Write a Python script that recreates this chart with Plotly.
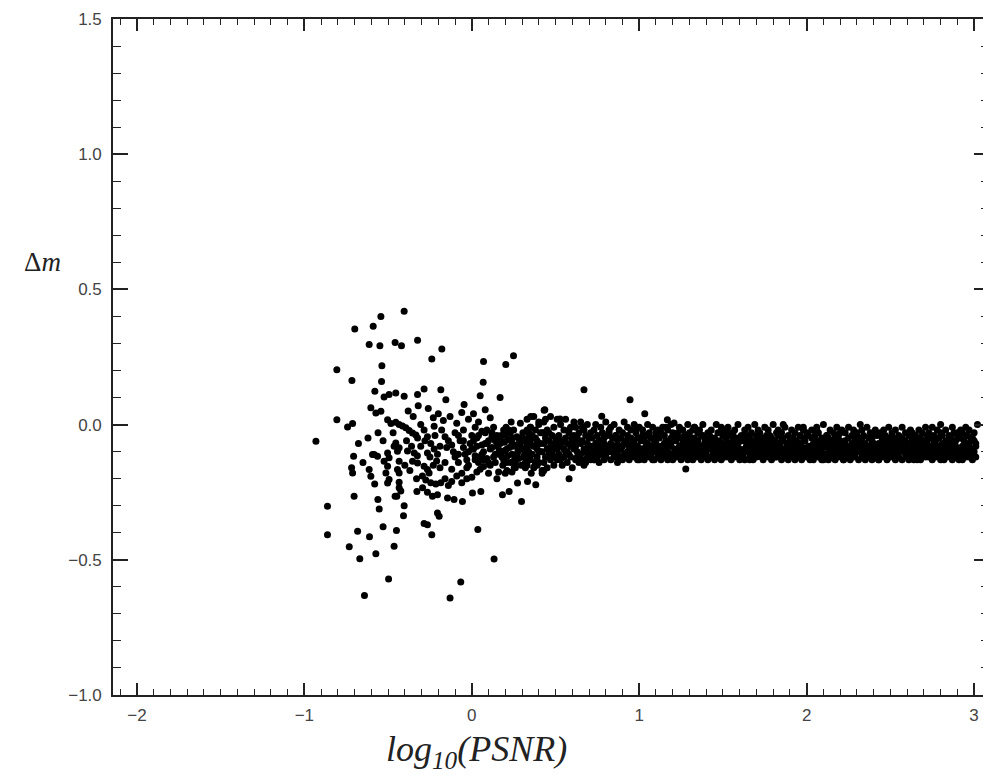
import plotly.graph_objects as go

# ---------------- data ----------------
out_x = [-0.404,-0.543,-0.699,-0.589,-0.613,-0.549,-0.458,-0.420,-0.324,-0.179,
 -0.239,0.070,0.203,0.249,-0.806,-0.537,-0.716,-0.539,0.068,0.169,
 -0.579,-0.524,-0.494,-0.454,-0.404,-0.324,-0.285,-0.185,-0.155,-0.046,
 0.050,-0.603,-0.573,-0.543,-0.806,-0.742,-0.712,-0.931,-0.677,-0.706,
 -0.718,-0.712,-0.862,-0.862,-0.703,-0.682,-0.732,-0.669,-0.611,-0.573,
 -0.530,-0.464,-0.450,-0.497,-0.641,-0.561,-0.553,-0.448,-0.404,-0.408,
 -0.285,-0.265,-0.239,-0.205,-0.195,-0.130,-0.066,0.036,0.133,0.297,
 -0.434,-0.458,-0.328,-0.294,-0.265,-0.235,-0.205,-0.145,-0.106,-0.056,
 0.004,0.054,0.183,0.223,0.273,0.333,0.382,0.670,0.945,0.432,
 0.527,0.776,1.033,1.168,1.208,1.278,0.581,0.253,0.372,0.436]
out_y = [0.419,0.400,0.354,0.364,0.296,0.292,0.304,0.292,0.312,0.280,
 0.243,0.233,0.222,0.255,0.203,0.218,0.163,0.159,0.157,0.100,
 0.123,0.102,0.111,0.117,0.105,0.111,0.132,0.129,0.092,0.074,
 0.107,0.062,0.043,0.049,0.018,-0.009,0.004,-0.062,-0.070,-0.117,
 -0.160,-0.179,-0.302,-0.407,-0.265,-0.394,-0.452,-0.496,-0.415,-0.478,
 -0.378,-0.450,-0.392,-0.571,-0.632,-0.277,-0.312,-0.265,-0.300,-0.337,
 -0.366,-0.370,-0.407,-0.327,-0.339,-0.641,-0.582,-0.388,-0.497,-0.284,
 -0.234,-0.265,-0.247,-0.234,-0.250,-0.265,-0.259,-0.271,-0.277,-0.284,
 -0.253,-0.247,-0.259,-0.247,-0.216,-0.210,-0.222,0.129,0.092,0.053,
 0.021,0.031,0.040,0.018,0.006,-0.164,-0.200,-0.160,-0.156,0.055]

mid_x = [-0.503,-0.483,-0.454,-0.434,-0.414,-0.394,-0.374,-0.354,-0.334,-0.324,
 -0.305,-0.225,-0.454,-0.464,-0.434,-0.444,-0.503,-0.494,-0.593,-0.563,
 -0.524,-0.503,-0.513,-0.494,-0.503,-0.434,-0.444,-0.434,-0.384,-0.344,
 -0.354,-0.324,-0.285,-0.265,-0.255,-0.613,-0.603,-0.583,-0.424,-0.434,
 -0.285,-0.265,-0.245,-0.225,-0.205,-0.265,-0.305,-0.325,-0.295,-0.275,
 -0.245,-0.215,-0.185,-0.160,-0.140,-0.120,-0.090,-0.060,-0.030,0.000,
 -0.180,-0.160,-0.140,-0.150,-0.120,-0.110,-0.100,-0.080,-0.070,-0.050,
 -0.040,-0.030,-0.020,-0.010,0.010,0.020,0.030,0.040,0.050,0.060,
 0.070,0.080,0.090,0.100,0.110,0.120,0.130,0.140,0.150,0.160,
 -0.200,-0.170,-0.130,-0.090,-0.060,-0.020,0.010,0.040,0.080,0.110,
 -0.120,-0.160,-0.190,-0.210,-0.230,-0.080,-0.050,-0.100,0.000,0.020,
 0.170,0.180,0.190,0.200,0.210,0.220,0.230,0.240,0.250,0.260,
 0.270,0.280,0.290,0.300,0.310,0.320,0.330,0.340,0.350,0.355,
 0.165,0.175,0.185,0.195,0.205,0.215,0.225,0.235,0.245,0.255,
 0.265,0.275,0.285,0.295,0.305,0.315,0.325,0.335,0.345,0.352,
 -0.380,-0.350,-0.320,-0.260,-0.230,-0.400,-0.370,-0.330,-0.560,-0.530,
 -0.620,-0.650,-0.580,-0.470,-0.390,-0.360,-0.280,-0.250,-0.220,-0.190,
 0.060,0.090,0.120,0.140,0.100,0.070,0.030,0.150,0.200,0.240]
mid_y = [0.018,0.004,0.009,0.000,-0.005,-0.012,-0.022,-0.031,-0.038,-0.050,
 0.000,-0.006,-0.068,-0.080,-0.086,-0.099,-0.105,-0.123,-0.111,-0.117,
 -0.136,-0.154,-0.179,-0.203,-0.216,-0.136,-0.166,-0.179,-0.098,-0.105,
 -0.136,-0.142,-0.154,-0.166,-0.179,-0.166,-0.191,-0.111,-0.246,-0.213,
 -0.020,-0.045,-0.070,-0.090,-0.110,-0.105,-0.080,-0.115,-0.190,-0.205,
 -0.215,-0.220,-0.215,-0.200,-0.225,-0.210,-0.190,-0.215,-0.200,-0.195,
 -0.020,-0.045,-0.060,-0.085,-0.075,-0.100,-0.120,-0.140,-0.060,-0.085,
 -0.110,-0.130,-0.150,-0.070,-0.090,-0.115,-0.050,-0.140,-0.165,-0.075,
 -0.100,-0.030,-0.125,-0.060,-0.150,-0.085,-0.010,-0.110,-0.040,-0.175,
 0.040,0.015,0.030,0.005,0.045,0.020,0.040,0.010,0.055,0.025,
 -0.165,-0.140,-0.160,-0.135,-0.150,-0.040,-0.020,-0.030,-0.040,-0.010,
 -0.070,-0.120,-0.020,-0.095,-0.140,-0.055,-0.030,-0.110,-0.080,-0.160,
 -0.045,-0.125,0.005,-0.090,-0.060,-0.140,-0.020,-0.105,-0.075,-0.180,
 -0.095,-0.040,-0.150,-0.065,-0.010,-0.115,-0.085,0.010,-0.050,-0.130,
 -0.075,-0.100,-0.060,-0.150,-0.030,-0.110,-0.085,-0.050,-0.130,0.030,
 0.050,0.030,0.070,0.060,0.025,-0.150,-0.170,-0.200,-0.030,-0.060,
 -0.050,-0.140,-0.220,-0.030,-0.060,-0.080,-0.060,-0.120,-0.040,-0.080,
 -0.025,-0.070,-0.045,-0.140,-0.180,-0.155,-0.175,-0.200,-0.180,-0.175]

core_x = [-0.08,-0.05,-0.03,0.00,0.02,0.04,0.06,0.08,0.10,0.12,
 0.13,0.15,0.17,0.19,0.21,0.22,0.24,0.26,0.28,0.30,
 -0.06,-0.02,0.01,0.05,0.09,0.11,0.14,0.18,0.20,0.23,
 0.25,0.27,0.29,0.31,0.33,0.36,0.38,0.40,0.43,0.45,
 0.03,0.07,0.16,0.21,0.26,0.32,0.35,0.39,0.42,0.44]
core_y = [-0.11,-0.06,-0.16,-0.09,-0.13,-0.04,-0.11,-0.07,-0.14,-0.03,
 -0.12,-0.08,-0.05,-0.13,-0.09,-0.02,-0.07,-0.12,-0.09,-0.05,
 -0.18,-0.10,-0.06,-0.12,-0.02,-0.09,-0.06,-0.10,-0.04,-0.14,
 -0.02,-0.11,-0.07,-0.12,-0.08,-0.05,-0.14,-0.10,-0.03,-0.12,
 -0.08,-0.13,-0.11,-0.17,-0.14,-0.16,-0.01,-0.15,-0.17,0.02]

band_x = [
 0.32,0.32,0.33,0.33,0.33,0.34,0.34,0.35,0.35,0.35,0.36,0.36,0.37,0.37,0.37,0.38,0.38,0.39,0.39,0.39,0.40,0.40,0.41,0.41,0.41,0.42,0.33,0.36,0.38,0.40,
 0.42,0.42,0.43,0.43,0.43,0.44,0.44,0.45,0.45,0.45,0.46,0.46,0.47,0.47,0.47,0.48,0.48,0.49,0.49,0.49,0.50,0.50,0.51,0.51,0.51,0.52,0.43,0.46,0.48,0.50,
 0.52,0.52,0.53,0.53,0.53,0.54,0.54,0.55,0.55,0.55,0.56,0.56,0.57,0.57,0.57,0.58,0.58,0.59,0.59,0.59,0.60,0.60,0.61,0.61,0.61,0.62,0.53,0.56,0.58,0.60,
 0.62,0.62,0.63,0.63,0.63,0.64,0.64,0.65,0.65,0.65,0.66,0.66,0.67,0.67,0.67,0.68,0.68,0.69,0.69,0.69,0.70,0.70,0.71,0.71,0.71,0.72,0.63,0.66,0.68,0.70,
 0.72,0.72,0.73,0.73,0.73,0.74,0.74,0.75,0.75,0.75,0.76,0.76,0.77,0.77,0.77,0.78,0.78,0.79,0.79,0.79,0.80,0.80,0.81,0.81,0.81,0.82,0.73,0.76,0.78,0.80,
 0.82,0.82,0.83,0.83,0.83,0.84,0.84,0.85,0.85,0.85,0.86,0.86,0.87,0.87,0.87,0.88,0.88,0.89,0.89,0.89,0.90,0.90,0.91,0.91,0.91,0.92,0.83,0.86,0.88,0.90,
 0.92,0.92,0.93,0.93,0.93,0.94,0.94,0.95,0.95,0.95,0.96,0.96,0.97,0.97,0.97,0.98,0.98,0.99,0.99,0.99,1.00,1.00,1.01,1.01,1.01,1.02,0.93,0.96,0.98,1.00,
 1.02,1.02,1.03,1.03,1.03,1.04,1.04,1.05,1.05,1.05,1.06,1.06,1.07,1.07,1.07,1.08,1.08,1.09,1.09,1.09,1.10,1.10,1.11,1.11,1.11,1.12,1.03,1.06,1.08,1.10,
 1.12,1.12,1.13,1.13,1.13,1.14,1.14,1.15,1.15,1.15,1.16,1.16,1.17,1.17,1.17,1.18,1.18,1.19,1.19,1.19,1.20,1.20,1.21,1.21,1.21,1.22,1.13,1.16,1.18,1.20,
 1.22,1.22,1.23,1.23,1.23,1.24,1.24,1.25,1.25,1.25,1.26,1.26,1.27,1.27,1.27,1.28,1.28,1.29,1.29,1.29,1.30,1.30,1.31,1.31,1.31,1.32,1.23,1.26,1.28,1.30,
 1.32,1.32,1.33,1.33,1.33,1.34,1.34,1.35,1.35,1.35,1.36,1.36,1.37,1.37,1.37,1.38,1.38,1.39,1.39,1.39,1.40,1.40,1.41,1.41,1.41,1.42,1.33,1.36,1.38,1.40,
 1.42,1.42,1.43,1.43,1.43,1.44,1.44,1.45,1.45,1.45,1.46,1.46,1.47,1.47,1.47,1.48,1.48,1.49,1.49,1.49,1.50,1.50,1.51,1.51,1.51,1.52,1.43,1.46,1.48,1.50,
 1.52,1.52,1.53,1.53,1.53,1.54,1.54,1.55,1.55,1.55,1.56,1.56,1.57,1.57,1.57,1.58,1.58,1.59,1.59,1.59,1.60,1.60,1.61,1.61,1.61,1.62,1.53,1.56,1.58,1.60,
 1.62,1.62,1.63,1.63,1.63,1.64,1.64,1.65,1.65,1.65,1.66,1.66,1.67,1.67,1.67,1.68,1.68,1.69,1.69,1.69,1.70,1.70,1.71,1.71,1.71,1.72,1.63,1.66,1.68,1.70,
 1.72,1.72,1.73,1.73,1.73,1.74,1.74,1.75,1.75,1.75,1.76,1.76,1.77,1.77,1.77,1.78,1.78,1.79,1.79,1.79,1.80,1.80,1.81,1.81,1.81,1.82,1.73,1.76,1.78,1.80,
 1.82,1.82,1.83,1.83,1.83,1.84,1.84,1.85,1.85,1.85,1.86,1.86,1.87,1.87,1.87,1.88,1.88,1.89,1.89,1.89,1.90,1.90,1.91,1.91,1.91,1.92,1.83,1.86,1.88,1.90,
 1.92,1.92,1.93,1.93,1.93,1.94,1.94,1.95,1.95,1.95,1.96,1.96,1.97,1.97,1.97,1.98,1.98,1.99,1.99,1.99,2.00,2.00,2.01,2.01,2.01,2.02,1.93,1.96,1.98,2.00,
 2.02,2.02,2.03,2.03,2.03,2.04,2.04,2.05,2.05,2.05,2.06,2.06,2.07,2.07,2.07,2.08,2.08,2.09,2.09,2.09,2.10,2.10,2.11,2.11,2.11,2.12,2.03,2.06,2.08,2.10,
 2.12,2.12,2.13,2.13,2.13,2.14,2.14,2.15,2.15,2.15,2.16,2.16,2.17,2.17,2.17,2.18,2.18,2.19,2.19,2.19,2.20,2.20,2.21,2.21,2.21,2.22,2.13,2.16,2.18,2.20,
 2.22,2.22,2.23,2.23,2.23,2.24,2.24,2.25,2.25,2.25,2.26,2.26,2.27,2.27,2.27,2.28,2.28,2.29,2.29,2.29,2.30,2.30,2.31,2.31,2.31,2.32,2.23,2.26,2.28,2.30,
 2.32,2.32,2.33,2.33,2.33,2.34,2.34,2.35,2.35,2.35,2.36,2.36,2.37,2.37,2.37,2.38,2.38,2.39,2.39,2.39,2.40,2.40,2.41,2.41,2.41,2.42,2.33,2.36,2.38,2.40,
 2.42,2.42,2.43,2.43,2.43,2.44,2.44,2.45,2.45,2.45,2.46,2.46,2.47,2.47,2.47,2.48,2.48,2.49,2.49,2.49,2.50,2.50,2.51,2.51,2.51,2.52,2.43,2.46,2.48,2.50,
 2.52,2.52,2.53,2.53,2.53,2.54,2.54,2.55,2.55,2.55,2.56,2.56,2.57,2.57,2.57,2.58,2.58,2.59,2.59,2.59,2.60,2.60,2.61,2.61,2.61,2.62,2.53,2.56,2.58,2.60,
 2.62,2.62,2.63,2.63,2.63,2.64,2.64,2.65,2.65,2.65,2.66,2.66,2.67,2.67,2.67,2.68,2.68,2.69,2.69,2.69,2.70,2.70,2.71,2.71,2.71,2.72,2.63,2.66,2.68,2.70,
 2.72,2.72,2.73,2.73,2.73,2.74,2.74,2.75,2.75,2.75,2.76,2.76,2.77,2.77,2.77,2.78,2.78,2.79,2.79,2.79,2.80,2.80,2.81,2.81,2.81,2.82,2.73,2.76,2.78,2.80,
 2.82,2.82,2.83,2.83,2.83,2.84,2.84,2.85,2.85,2.85,2.86,2.86,2.87,2.87,2.87,2.88,2.88,2.89,2.89,2.89,2.90,2.90,2.91,2.91,2.91,2.92,2.83,2.86,2.88,2.90,
 2.92,2.92,2.93,2.93,2.93,2.94,2.94,2.95,2.95,2.95,2.96,2.96,2.97,2.97,2.97,2.98,2.98,2.99,2.99,2.99,3.00,3.00,3.01,3.01,3.01,3.02,2.93,2.96,2.98,3.00]
band_y = [
 -0.06,-0.12,0.02,-0.09,-0.15,-0.03,-0.10,-0.01,-0.07,-0.13,-0.04,-0.11,0.03,-0.08,-0.16,-0.05,-0.02,-0.12,-0.09,-0.06,-0.14,0.00,-0.10,-0.03,-0.07,-0.18,-0.11,-0.05,-0.08,0.01,
 -0.10,-0.03,-0.14,-0.07,0.01,-0.12,-0.05,-0.09,-0.16,-0.02,-0.11,-0.06,0.03,-0.13,-0.08,-0.04,-0.10,-0.15,-0.01,-0.07,-0.12,-0.05,-0.09,0.02,-0.13,-0.06,-0.17,-0.03,-0.11,-0.08,
 -0.04,-0.11,-0.08,0.00,-0.13,-0.06,-0.15,-0.02,-0.09,-0.12,-0.05,0.02,-0.10,-0.07,-0.14,-0.03,-0.11,-0.08,-0.01,-0.12,-0.06,-0.16,-0.09,-0.04,0.01,-0.13,-0.07,-0.10,-0.02,-0.05,
 -0.08,-0.01,-0.12,-0.05,-0.10,-0.14,-0.03,-0.07,0.01,-0.11,-0.06,-0.13,-0.09,-0.02,-0.15,-0.04,-0.10,-0.07,-0.12,0.00,-0.05,-0.09,-0.13,-0.03,-0.08,-0.11,-0.06,-0.01,-0.14,-0.10,
 -0.11,-0.05,-0.02,-0.09,-0.13,-0.07,0.00,-0.12,-0.04,-0.10,-0.08,-0.14,-0.01,-0.06,-0.11,-0.03,-0.09,-0.13,-0.05,-0.07,0.01,-0.12,-0.10,-0.04,-0.08,-0.02,-0.13,-0.06,-0.09,-0.11,
 -0.03,-0.10,-0.07,-0.13,-0.01,-0.09,-0.05,-0.12,-0.08,0.00,-0.11,-0.04,-0.14,-0.06,-0.10,-0.02,-0.08,-0.12,-0.05,-0.09,-0.13,-0.03,-0.07,-0.11,0.01,-0.06,-0.10,-0.04,-0.12,-0.08,
 -0.07,-0.12,-0.04,-0.10,-0.01,-0.08,-0.13,-0.05,-0.11,-0.02,-0.09,-0.06,-0.12,0.00,-0.07,-0.10,-0.03,-0.13,-0.08,-0.05,-0.11,-0.01,-0.09,-0.06,-0.12,-0.04,-0.10,-0.07,-0.02,-0.13,
 -0.09,-0.02,-0.11,-0.06,-0.13,-0.04,-0.08,0.00,-0.10,-0.07,-0.12,-0.03,-0.09,-0.05,-0.11,-0.01,-0.08,-0.13,-0.06,-0.10,-0.04,-0.07,-0.12,-0.02,-0.09,-0.11,-0.05,-0.08,-0.13,-0.03,
 -0.05,-0.10,-0.13,-0.03,-0.08,-0.11,-0.01,-0.07,-0.12,-0.04,-0.09,-0.06,-0.13,-0.02,-0.10,-0.07,-0.12,-0.05,0.00,-0.08,-0.11,-0.03,-0.09,-0.06,-0.12,-0.04,-0.10,-0.01,-0.07,-0.13,
 -0.12,-0.06,-0.03,-0.09,-0.11,-0.01,-0.08,-0.13,-0.05,-0.10,-0.02,-0.07,-0.12,-0.04,-0.09,-0.06,-0.11,0.00,-0.08,-0.13,-0.03,-0.10,-0.05,-0.07,-0.12,-0.02,-0.09,-0.11,-0.04,-0.06,
 -0.08,-0.13,-0.05,-0.01,-0.10,-0.07,-0.12,-0.03,-0.09,-0.06,-0.11,-0.02,-0.08,-0.13,-0.04,-0.10,0.00,-0.07,-0.12,-0.05,-0.09,-0.11,-0.03,-0.06,-0.13,-0.08,-0.01,-0.10,-0.04,-0.12,
 -0.04,-0.09,-0.12,-0.06,-0.02,-0.11,-0.08,-0.13,-0.05,-0.10,0.00,-0.07,-0.03,-0.12,-0.09,-0.06,-0.11,-0.01,-0.08,-0.13,-0.04,-0.10,-0.07,-0.02,-0.12,-0.05,-0.09,-0.11,-0.03,-0.08,
 -0.10,-0.05,-0.08,-0.12,-0.01,-0.07,-0.11,-0.04,-0.13,-0.09,-0.03,-0.06,-0.10,-0.12,-0.02,-0.08,-0.05,-0.11,-0.07,0.00,-0.13,-0.09,-0.04,-0.06,-0.10,-0.12,-0.03,-0.08,-0.11,-0.05,
 -0.06,-0.11,-0.02,-0.09,-0.13,-0.04,-0.08,-0.10,-0.01,-0.07,-0.12,-0.05,-0.09,-0.03,-0.11,-0.13,-0.06,-0.08,0.00,-0.10,-0.04,-0.12,-0.07,-0.09,-0.02,-0.11,-0.05,-0.13,-0.08,-0.06,
 -0.09,-0.03,-0.12,-0.07,-0.05,-0.10,-0.13,-0.01,-0.08,-0.11,-0.04,-0.06,-0.12,-0.09,-0.02,-0.10,-0.07,-0.13,-0.05,-0.08,-0.11,0.00,-0.06,-0.09,-0.12,-0.03,-0.10,-0.07,-0.04,-0.11,
 -0.12,-0.07,-0.04,-0.10,-0.02,-0.08,-0.11,-0.06,-0.13,-0.03,-0.09,-0.05,-0.10,-0.12,-0.01,-0.07,-0.09,-0.04,-0.11,-0.13,-0.06,-0.08,-0.02,-0.10,-0.05,-0.12,-0.07,0.00,-0.09,-0.11,
 -0.05,-0.10,-0.08,-0.13,-0.03,-0.06,-0.11,-0.09,-0.01,-0.12,-0.07,-0.04,-0.10,-0.08,-0.13,-0.05,-0.02,-0.11,-0.09,-0.06,-0.12,-0.03,-0.08,-0.10,-0.04,-0.13,-0.07,-0.11,-0.01,-0.09,
 -0.08,-0.12,-0.05,-0.02,-0.10,-0.07,-0.13,-0.04,-0.09,-0.11,-0.06,-0.01,-0.08,-0.12,-0.03,-0.10,-0.07,-0.05,-0.13,-0.09,0.00,-0.11,-0.06,-0.08,-0.12,-0.04,-0.10,-0.02,-0.07,-0.13,
 -0.11,-0.04,-0.09,-0.07,-0.13,-0.02,-0.10,-0.06,-0.12,-0.08,-0.03,-0.11,-0.05,-0.09,-0.13,-0.01,-0.07,-0.10,-0.04,-0.12,-0.08,-0.06,-0.11,-0.02,-0.09,-0.13,-0.05,-0.07,-0.10,-0.03,
 -0.07,-0.13,-0.03,-0.10,-0.06,-0.12,-0.08,-0.01,-0.11,-0.05,-0.09,-0.13,-0.04,-0.07,-0.10,-0.02,-0.12,-0.08,-0.06,-0.11,-0.03,-0.09,-0.13,-0.05,-0.07,0.00,-0.10,-0.12,-0.04,-0.08,
 -0.10,-0.06,-0.12,-0.02,-0.08,-0.11,-0.04,-0.09,-0.13,-0.07,-0.01,-0.10,-0.05,-0.12,-0.08,-0.03,-0.11,-0.06,-0.09,-0.13,-0.04,-0.07,-0.10,-0.02,-0.12,-0.08,-0.05,-0.11,-0.09,-0.03,
 -0.04,-0.09,-0.11,-0.07,-0.13,-0.03,-0.10,-0.05,-0.08,-0.12,-0.02,-0.06,-0.11,-0.09,-0.04,-0.13,-0.07,-0.01,-0.10,-0.05,-0.12,-0.08,-0.03,-0.11,-0.06,-0.09,-0.13,-0.04,-0.07,-0.10,
 -0.09,-0.05,-0.13,-0.08,-0.02,-0.11,-0.06,-0.10,-0.04,-0.12,-0.07,-0.09,-0.01,-0.13,-0.05,-0.10,-0.08,-0.03,-0.11,-0.06,-0.12,-0.09,-0.04,-0.07,-0.13,-0.02,-0.10,-0.05,-0.08,-0.11,
 -0.12,-0.08,-0.05,-0.10,-0.03,-0.13,-0.07,-0.09,-0.11,-0.04,-0.06,-0.12,-0.02,-0.08,-0.10,-0.05,-0.13,-0.07,-0.03,-0.11,-0.09,-0.06,-0.01,-0.12,-0.08,-0.04,-0.10,-0.13,-0.06,-0.09,
 -0.06,-0.10,-0.03,-0.12,-0.08,-0.05,-0.11,-0.01,-0.09,-0.13,-0.07,-0.04,-0.10,-0.06,-0.12,-0.02,-0.08,-0.11,-0.05,-0.09,-0.13,-0.03,-0.07,-0.10,-0.04,-0.12,-0.08,-0.06,-0.11,0.00,
 -0.09,-0.13,-0.06,-0.02,-0.10,-0.07,-0.12,-0.04,-0.08,-0.11,-0.05,-0.09,-0.13,-0.01,-0.07,-0.10,-0.03,-0.12,-0.06,-0.08,-0.11,-0.04,-0.09,-0.13,-0.05,-0.02,-0.10,-0.07,-0.12,-0.03,
 -0.05,-0.11,-0.08,-0.13,-0.03,-0.09,-0.06,-0.12,-0.01,-0.07,-0.10,-0.04,-0.12,-0.08,-0.02,-0.11,-0.06,-0.09,-0.13,-0.05,-0.10,-0.03,-0.07,-0.12,-0.08,0.00,-0.11,-0.04,-0.09,-0.06]

x_ticks = [-2, -1, 0, 1, 2, 3]
y_ticks = [-1.0, -0.5, 0.0, 0.5, 1.0, 1.5]

# ---------------- figure ----------------
marker = dict(color="black", size=7, symbol="circle", line=dict(width=0))
fig = go.Figure()
for xs, ys in [(band_x, band_y), (core_x, core_y), (mid_x, mid_y), (out_x, out_y)]:
    fig.add_trace(go.Scatter(x=xs, y=ys, mode="markers", marker=marker,
                             showlegend=False, hoverinfo="skip"))

axis_common = dict(
    showgrid=False, zeroline=False, showline=True, linecolor="#222",
    linewidth=1.6, mirror="ticks", ticks="inside", tickcolor="#222",
    tickwidth=1.6, tickfont=dict(family="Liberation Sans", size=17, color="#444"),
)
fig.update_xaxes(range=[-2.143, 3.089], tickvals=x_ticks, ticklen=12,
                 ticklabelstandoff=4,
                 minor=dict(dtick=0.1, tick0=0, ticklen=6, ticks="inside",
                            tickcolor="#222", tickwidth=1.4),
                 **axis_common)
fig.update_yaxes(range=[-1.0, 1.5], tickvals=y_ticks, tickformat=".1f", ticklen=15,
                 ticklabelstandoff=6,
                 minor=dict(dtick=0.1, tick0=0, ticklen=8, ticks="inside",
                            tickcolor="#222", tickwidth=1.4),
                 **axis_common)

# the page adds an 8px body margin, so the figure is sized 8px smaller
fig.add_annotation(text="<i>log<sub>10</sub>(PSNR)</i>", x=0.03, xref="x",
                   y=-0.083, yref="paper", showarrow=False, xanchor="center",
                   yanchor="middle",
                   font=dict(family="Liberation Serif", size=36, color="#222"))
fig.add_annotation(text="Δ<i>m</i>", x=-0.081, xref="paper", y=0.603, yref="y",
                   showarrow=False, xanchor="center", yanchor="middle",
                   font=dict(family="Liberation Serif", size=27, color="#222"))

fig.update_layout(width=983, height=768, margin=dict(l=105, r=0, t=11, b=81),
                  paper_bgcolor="white", plot_bgcolor="white")
fig.write_html("out.html")
